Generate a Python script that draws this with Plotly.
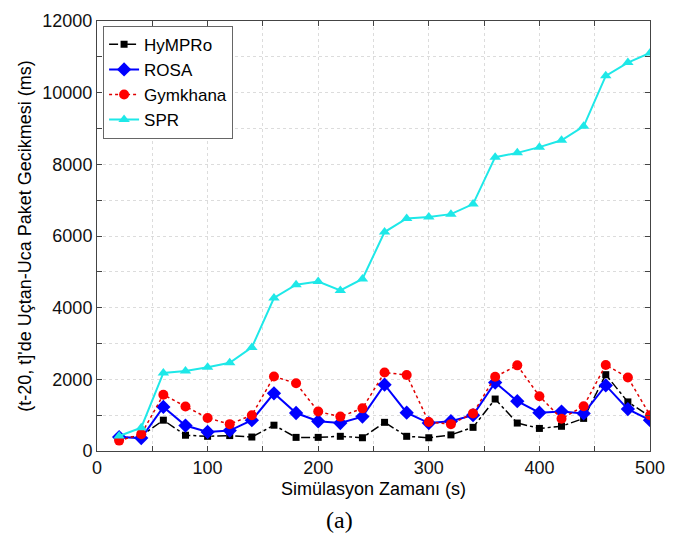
import plotly.graph_objects as go

# Simulation time (s) at the end of each 20 s window
sim_time = [20, 40, 60, 80, 100, 120, 140, 160, 180, 200, 220, 240, 260,
            280, 300, 320, 340, 360, 380, 400, 420, 440, 460, 480, 500]

# End-to-end packet delay in the (t-20, t] window (ms)
hympro = [350, 420, 860, 440, 410, 430, 390, 720, 380, 380, 410, 370, 800,
          410, 370, 450, 660, 1450, 780, 630, 690, 910, 2130, 1370, 960]
rosa = [390, 360, 1230, 710, 530, 570, 860, 1610, 1060, 830, 780, 960, 1850,
        1070, 780, 830, 1000, 1910, 1390, 1070, 1100, 1050, 1830, 1170, 860]
gymkhana = [290, 470, 1570, 1240, 920, 750, 1000, 2080, 1890, 1100, 960, 1190, 2190,
            2120, 810, 750, 1050, 2070, 2390, 1530, 900, 1250, 2400, 2050, 1000]
spr = [420, 650, 2180, 2230, 2340, 2460, 2890, 4270, 4640, 4730, 4480, 4800, 6110,
       6490, 6530, 6610, 6890, 8200, 8320, 8480, 8670, 9060, 10470, 10840, 11110]

x_ticks = [0, 50, 100, 150, 200, 250, 300, 350, 400, 450, 500]
x_tick_text = ["0", "", "100", "", "200", "", "300", "", "400", "", "500"]
y_ticks = [0, 1000, 2000, 3000, 4000, 5000, 6000, 7000, 8000, 9000, 10000, 11000, 12000]
y_tick_text = ["0", "", "2000", "", "4000", "", "6000", "", "8000", "", "10000", "", "12000"]

FONT = "Liberation Sans, Arial, sans-serif"

fig = go.Figure()
fig.add_trace(go.Scatter(
    x=sim_time, y=hympro, name="HyMPRo", mode="lines+markers",
    line=dict(color="black", width=1.5, dash="dashdot"),
    marker=dict(symbol="square", size=7, color="black")))
fig.add_trace(go.Scatter(
    x=sim_time, y=rosa, name="ROSA", mode="lines+markers",
    line=dict(color="#0000ff", width=2),
    marker=dict(symbol="diamond", size=11, color="#0000ff")))
fig.add_trace(go.Scatter(
    x=sim_time, y=gymkhana, name="Gymkhana", mode="lines+markers",
    line=dict(color="#e00000", width=1.5, dash="dot"),
    marker=dict(symbol="circle", size=10, color="#ff0000")))
fig.add_trace(go.Scatter(
    x=sim_time, y=spr, name="SPR", mode="lines+markers",
    line=dict(color="#1ee8e8", width=2),
    marker=dict(symbol="triangle-up", size=10, color="#1ee8e8")))

axis_common = dict(
    showline=True, linecolor="#444", linewidth=1, mirror="ticks",
    ticks="inside", ticklen=5, tickcolor="#444",
    showgrid=True, gridcolor="#dcdcdc", griddash="dot", gridwidth=1,
    zeroline=False, tickfont=dict(family=FONT, size=18, color="#111"),
    tickmode="array",
)

fig.update_xaxes(range=[0, 500], tickvals=x_ticks, ticktext=x_tick_text, **axis_common)
fig.update_yaxes(range=[0, 12000], tickvals=y_ticks, ticktext=y_tick_text, **axis_common)

fig.update_layout(
    width=676, height=543,
    margin=dict(l=97, r=20, t=11, b=92),
    paper_bgcolor="white", plot_bgcolor="white",
    font=dict(family=FONT, size=18, color="black"),
    showlegend=True,
    legend=dict(
        x=0.011, y=0.989, xanchor="left", yanchor="top",
        bgcolor="white", bordercolor="#666", borderwidth=1,
        font=dict(family=FONT, size=17, color="black"),
        tracegroupgap=0, itemwidth=30,
    ),
    annotations=[
        dict(text="Simülasyon Zamanı (s)", xref="paper", yref="paper",
             x=0.5, y=-0.0886, xanchor="center", yanchor="middle",
             showarrow=False, font=dict(family=FONT, size=18, color="black")),
        dict(text="(t-20, t]'de Uçtan-Uca Paket Gecikmesi (ms)", xref="paper", yref="paper",
             x=-0.1306, y=0.5, xanchor="center", yanchor="middle", textangle=-90,
             showarrow=False, font=dict(family=FONT, size=18, color="black")),
        dict(text="(a)", xref="paper", yref="paper",
             x=0.438, y=-0.161, xanchor="center", yanchor="middle",
             showarrow=False,
             font=dict(family="Liberation Serif, Times New Roman, serif", size=24, color="black")),
    ],
)

fig.write_html("out.html")
